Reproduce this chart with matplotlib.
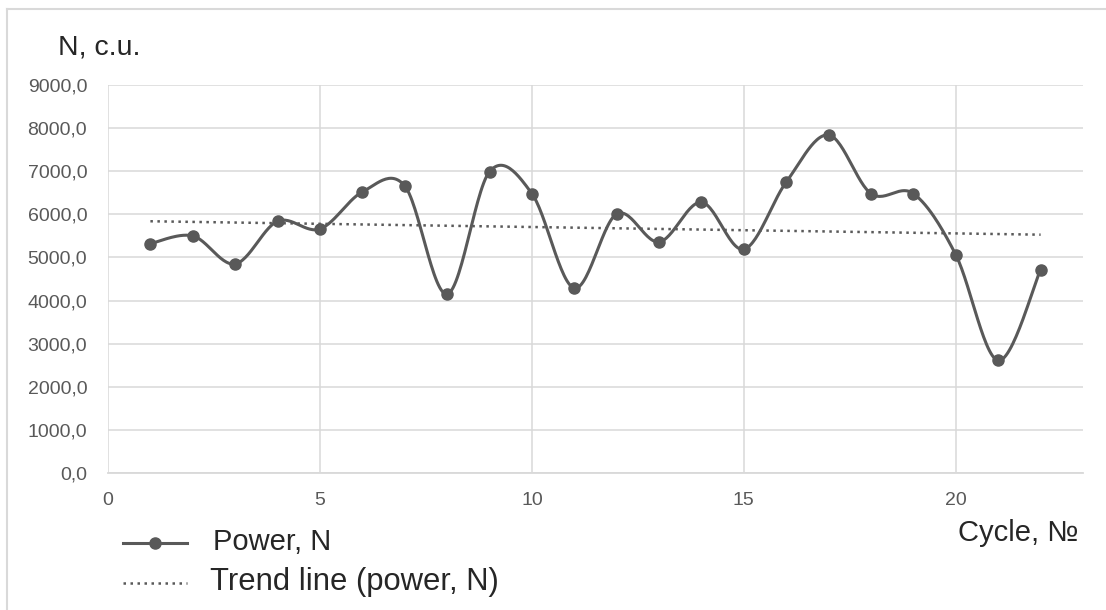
import numpy as np
import matplotlib
matplotlib.use("Agg")
import matplotlib.pyplot as plt
from matplotlib.lines import Line2D

cycles = list(range(1, 23))
power = [5320, 5500, 4850, 5840, 5660, 6520, 6660, 4150, 6990, 6480, 4290,
         6010, 5360, 6280, 5190, 6750, 7840, 6480, 6480, 5060, 2610, 4720]
x_ticks = [0, 5, 10, 15, 20]
y_ticks = [0, 1000, 2000, 3000, 4000, 5000, 6000, 7000, 8000, 9000]
y_tick_labels = ["0,0", "1000,0", "2000,0", "3000,0", "4000,0", "5000,0",
                 "6000,0", "7000,0", "8000,0", "9000,0"]
series_label = "Power, N"
trend_label = "Trend line (power, N)"
y_title = "N, c.u."
x_title = "Cycle, №"

W, H = 1106, 610
fig = plt.figure(figsize=(W / 100, H / 100), dpi=100)
fam = ['Liberation Sans', 'DejaVu Sans']
plt.rcParams['font.family'] = fam

def fx(px):
    return px / W

def fy(py):
    return 1 - py / H

ax = fig.add_axes([fx(108), fy(473), 975 / W, 388 / H])
ax.set_xlim(0, 23)
ax.set_ylim(0, 9000)

LINE = '#595959'
GRID = '#d9d9d9'

# Smoothed line (Catmull-Rom style Bezier as in Excel smoothing)
xs = np.array(cycles, dtype=float)
ys = np.array(power, dtype=float)
n = len(xs)
cx, cy = [], []
t = np.linspace(0, 1, 30)
for i in range(n - 1):
    p0 = np.array([xs[i], ys[i]])
    p3 = np.array([xs[i + 1], ys[i + 1]])
    pm = np.array([xs[i - 1], ys[i - 1]]) if i > 0 else p0
    pp = np.array([xs[i + 2], ys[i + 2]]) if i + 2 < n else p3
    c1 = p0 + (p3 - pm) / 6.0
    c2 = p3 - (pp - p0) / 6.0
    b = ((1 - t) ** 3)[:, None] * p0 + (3 * (1 - t) ** 2 * t)[:, None] * c1 \
        + (3 * (1 - t) * t ** 2)[:, None] * c2 + (t ** 3)[:, None] * p3
    cx.extend(b[:, 0])
    cy.extend(b[:, 1])
ax.plot(cx, cy, color=LINE, lw=2.2, zorder=3, solid_capstyle='round')
ax.plot(xs, ys, 'o', color=LINE, ms=8, zorder=4)

# Linear trend
k, b0 = np.polyfit(xs, ys, 1)
tx = np.array([xs[0], xs[-1]])
ax.plot(tx, k * tx + b0, color=LINE, lw=1.8, linestyle=(0, (1, 1.8)), zorder=2)

ax.set_xticks(x_ticks)
ax.set_yticks(y_ticks)
ax.set_yticklabels(y_tick_labels)
ax.grid(True, color=GRID, lw=1.1)
ax.set_axisbelow(True)
for s in ['left', 'right', 'top']:
    ax.spines[s].set_visible(False)
ax.spines['bottom'].set_color(GRID)
ax.spines['bottom'].set_linewidth(1.3)
ax.tick_params(axis='both', length=0, labelsize=14, labelcolor=LINE)
ax.tick_params(axis='y', pad=15)
ax.tick_params(axis='x', pad=14)

# Titles
fig.text(fx(58), fy(47), y_title, ha='left', va='center', fontsize=20.5, color='#262626')
fig.text(fx(958), fy(533), x_title, ha='left', va='center', fontsize=21, color='#262626')

# Legend (manual)
fig.add_artist(Line2D([fx(123), fx(187)], [fy(543), fy(543)], color=LINE, lw=2.2,
                      transform=fig.transFigure))
fig.add_artist(Line2D([fx(155)], [fy(543)], color=LINE, marker='o', ms=8,
                      transform=fig.transFigure))
fig.add_artist(Line2D([fx(123), fx(187)], [fy(583), fy(583)], color=LINE, lw=1.8,
                      linestyle=(0, (1, 1.8)), transform=fig.transFigure))
fig.text(fx(213), fy(542), series_label, ha='left', va='center', fontsize=21, color='#262626')
fig.text(fx(210), fy(582), trend_label, ha='left', va='center', fontsize=22.3, color='#262626')

# Chart frame (top and left edges visible)
fig.add_artist(Line2D([fx(7), fx(W)], [fy(9), fy(9)], color=GRID, lw=1.5,
                      transform=fig.transFigure))
fig.add_artist(Line2D([fx(7), fx(7)], [fy(9), fy(H)], color=GRID, lw=1.5,
                      transform=fig.transFigure))

fig.savefig('out.png', dpi=100, facecolor='white')
